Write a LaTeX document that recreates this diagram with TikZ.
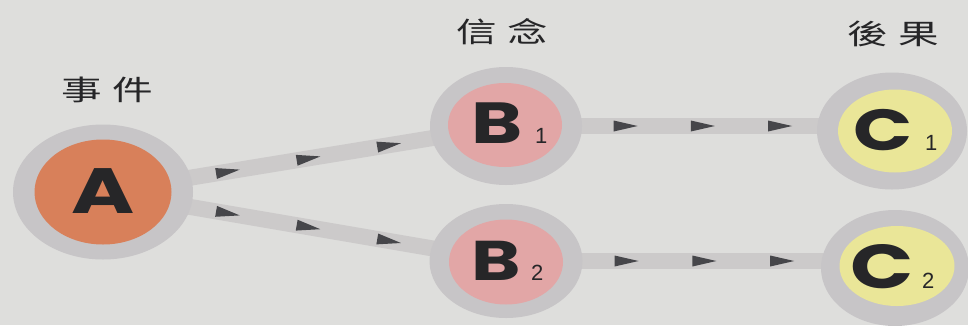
\documentclass[tikz,border=0pt]{standalone}
\usepackage{fontspec}
\usepackage{graphicx}
\usetikzlibrary{shapes.geometric,decorations.markings}
\newfontfamily\cjkf{Noto Sans CJK TC}
\newfontfamily\letf{Poppins}
\newfontfamily\numf{Liberation Sans}
\definecolor{bgc}{RGB}{222,222,220}
\definecolor{rimc}{RGB}{199,197,199}
\definecolor{bandc}{RGB}{204,202,202}
\definecolor{tric}{RGB}{70,70,74}
\definecolor{inkc}{RGB}{38,38,40}
\definecolor{acol}{RGB}{216,128,90}
\definecolor{bcol}{RGB}{226,166,166}
\definecolor{ccol}{RGB}{234,230,152}
\pgfdeclarelayer{bg}
\pgfsetlayers{bg,main}
\tikzset{
  rimdisc/.style={ellipse, fill=rimc, inner sep=0pt},
  coredisc/.style={ellipse, inner sep=0pt},
  letter/.style={anchor=base, inner sep=0pt, text=inkc},
  subnum/.style={anchor=base west, inner sep=0pt, text=inkc, font=\numf\fontsize{22}{22}\selectfont},
  heading/.style={inner sep=0pt, text=inkc, font=\cjkf\fontsize{28}{28}\selectfont},
  tri/.style={fill=tric},
  band/.style={draw=bandc, line width=16pt,
    decoration={markings,
      mark=at position 0.31 with {\fill[tri] (-12pt,-5.5pt) -- (12pt,0pt) -- (-12pt,5.5pt) -- cycle;},
      mark=at position 0.51 with {\fill[tri] (-12pt,-5.5pt) -- (12pt,0pt) -- (-12pt,5.5pt) -- cycle;},
      mark=at position 0.71 with {\fill[tri] (-12pt,-5.5pt) -- (12pt,0pt) -- (-12pt,5.5pt) -- cycle;}},
    postaction={decorate}}
}
\newcommand{\bigL}[2]{\scalebox{1.34}[1]{\letf\bfseries\fontsize{#2}{#2}\selectfont #1}}
\newcommand{\wideT}[1]{\scalebox{1.45}[1]{#1}}
\begin{document}
\begin{tikzpicture}[x=1pt,y=-1pt]
\useasboundingbox (0,0) rectangle (968,325);

% outer rims
\node[rimdisc, minimum width=180pt, minimum height=135pt] (A) at (103,192) {};
\node[rimdisc, minimum width=152pt, minimum height=118pt] (B1) at (506,126) {};
\node[rimdisc, minimum width=153pt, minimum height=114pt] (B2) at (506,261) {};
\node[rimdisc, minimum width=150pt, minimum height=117pt] (C1) at (892,131) {};
\node[rimdisc, minimum width=148pt, minimum height=116pt] (C2) at (895,268) {};

% inner cores
\node[coredisc, fill=acol, minimum width=137pt, minimum height=105pt] (Ai) at (103,192) {};
\node[coredisc, fill=bcol, minimum width=114pt, minimum height=84pt] (B1i) at (505,125) {};
\node[coredisc, fill=bcol, minimum width=114pt, minimum height=85pt] (B2i) at (506,262) {};
\node[coredisc, fill=ccol, minimum width=114pt, minimum height=83pt] (C1i) at (895,131) {};
\node[coredisc, fill=ccol, minimum width=115pt, minimum height=80pt] (C2i) at (897,266) {};

% background and connectors
\begin{pgfonlayer}{bg}
\fill[bgc] (0,0) rectangle (968,325);
\draw[band] (A.center) -- (B1.center);
\draw[band] (A.center) -- (B2.center);
\draw[band] (B1.center) -- (B1.center -| C1.center);
\draw[band] (B2.center) -- (B2.center -| C2.center);
\end{pgfonlayer}

% letters
\node[letter] (At) at (103,213) {\bigL{A}{64}};
\node[letter] (B1t) at (497,143) {\bigL{B}{58}};
\node[letter] (B2t) at (496,280) {\bigL{B}{56}};
\node[letter] (C1t) at (883,150) {\bigL{C}{58}};
\node[letter] (C2t) at (882,288) {\bigL{C}{62}};

% subscripts
\node[subnum] (B1s) at ([xshift=12pt]B1t.base east) {1};
\node[subnum] (B2s) at ([xshift=10pt]B2t.base east) {2};
\node[subnum] (C1s) at ([xshift=12pt]C1t.base east) {1};
\node[subnum] (C2s) at ([xshift=8pt]C2t.base east) {2};

% headings
\node[heading] (hA) at (107,90) {\wideT{事\hspace{7pt}件}};
\node[heading] (hB) at (502,32) {\wideT{信\hspace{7pt}念}};
\node[heading] (hC) at (893,34) {\wideT{後\hspace{7pt}果}};
\end{tikzpicture}
\end{document}
